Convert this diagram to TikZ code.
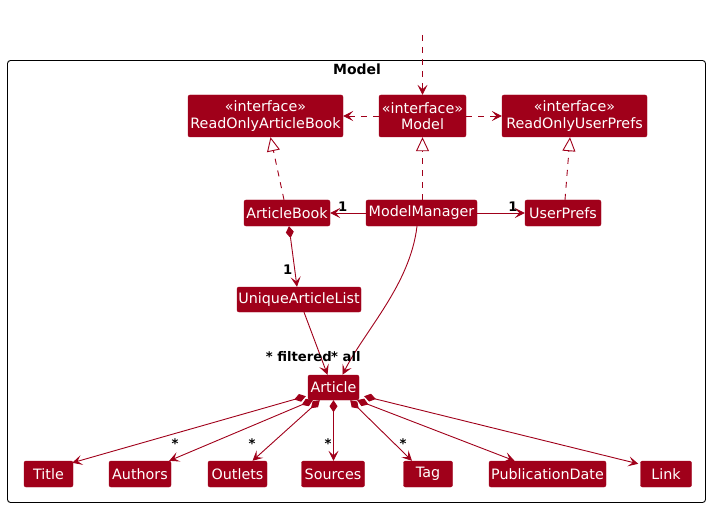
\documentclass[tikz,border=0pt]{standalone}
\usepackage{fontspec}
\setmainfont{DejaVu Sans}
\usetikzlibrary{arrows.meta,calc}
\definecolor{umlred}{RGB}{160,0,26}
\tikzset{
  cls/.style={fill=umlred,draw=umlred,rounded corners=2pt,text=white,inner sep=0pt,
    font=\fontsize{14.3}{16.5}\selectfont,align=center},
  ln/.style={draw=umlred,line width=0.9pt},
  dep/.style={ln,dash pattern=on 6pt off 6pt,-{Stealth[length=10pt,width=10pt,inset=4.5pt]}},
  real/.style={ln,dash pattern=on 6pt off 6pt,-{Triangle[open,fill=white,length=14pt,width=13pt]}},
  assoc/.style={ln,-{Stealth[length=10pt,width=10pt,inset=4.5pt]}},
  comp/.style={ln,{Diamond[length=12pt,width=8pt]}-{Stealth[length=10pt,width=10pt,inset=4.5pt]}},
  mult/.style={font=\bfseries\fontsize{13.2}{15}\selectfont,text=black,inner sep=0pt},
}
\begin{document}
\begin{tikzpicture}[x=1pt,y=-1pt]
\useasboundingbox (0,0) rectangle (710,508);
% package frame
\draw[black,line width=0.9pt,rounded corners=3pt] (7.5,60.5) rectangle (705.5,502.5);
\node[font=\bfseries\fontsize{14}{16}\selectfont,inner sep=0pt] (pkg) at (357,69) {Model};

% nodes
\node[cls,minimum width=155pt,minimum height=42pt] (roab) at (265.5,116) {«interface»\\ReadOnlyArticleBook};
\node[cls,minimum width=87pt,minimum height=42pt] (model) at (422.5,116) {«interface»\\Model};
\node[cls,minimum width=145pt,minimum height=42pt] (roup) at (574.5,116) {«interface»\\ReadOnlyUserPrefs};
\node[cls,minimum width=86pt,minimum height=26pt] (ab) at (287,213) {ArticleBook};
\node[cls,minimum width=111pt,minimum height=26pt] (mm) at (421.5,213) {ModelManager};
\node[cls,minimum width=76pt,minimum height=26pt] (up) at (563,213) {UserPrefs};
\node[cls,minimum width=124pt,minimum height=25pt] (ual) at (299,299.5) {UniqueArticleList};
\node[cls,minimum width=51pt,minimum height=25pt] (art) at (333.5,387.5) {Article};
\node[cls,minimum width=49pt,minimum height=26pt] (title) at (48.5,474) {Title};
\node[cls,minimum width=62pt,minimum height=26pt] (authors) at (140,474) {Authors};
\node[cls,minimum width=59pt,minimum height=26pt] (outlets) at (237.5,474) {Outlets};
\node[cls,minimum width=63pt,minimum height=26pt] (sources) at (333,474) {Sources};
\node[cls,minimum width=49pt,minimum height=26pt] (tag) at (428,474) {Tag};
\node[cls,minimum width=117pt,minimum height=26pt] (pub) at (547.5,474) {PublicationDate};
\node[cls,minimum width=51pt,minimum height=26pt] (link) at (666,474) {Link};

% incoming dependency from above
\coordinate (topin) at (422.5,35);
\draw[dep] (topin) -- (model.north);

% dependencies
\draw[dep] (model.west) -- (roab.east);
\draw[dep] (model.east) -- (roup.east -| roup.west);

% realizations
\draw[real] ([xshift=-3pt]ab.north) -- ([xshift=5pt]roab.south);
\draw[real] (mm.north -| model.south) -- (model.south);
\draw[real] ([xshift=2pt]up.north) -- ([xshift=-4.5pt]roup.south);

% associations
\draw[assoc] (mm.west) -- (ab.east) node[mult,pos=0.65,above=1pt] (m1) {1};
\draw[assoc] (mm.east) -- (up.west) node[mult,pos=0.75,above=1pt] (m2) {1};
\draw[comp] ([xshift=2pt]ab.south) -- ([xshift=-2pt]ual.north) node[mult,pos=0.72,left=2pt] (m3) {1};
\draw[assoc] ([xshift=5pt]ual.south) -- ([xshift=-6pt]art.north);
\draw[assoc] ([xshift=-4.5pt]mm.south) .. controls (410,285) and (365,330) .. ([xshift=9pt]art.north);
\node[mult,anchor=east] (mf) at (332,357) {* filtered};
\node[mult,anchor=west] (ma) at (331,357) {* all};

% compositions from Article
\draw[comp] ([xshift=-2pt,yshift=4pt]art.south west) -- ([xshift=-1pt,yshift=-2pt]title.north east);
\draw[comp] ([xshift=5pt]art.south west) -- ([xshift=-2pt]authors.north east);
\draw[comp] ([xshift=12pt]art.south west) -- ([xshift=15pt]outlets.north);
\draw[comp] (art.south) -- (art.south |- sources.north);
\draw[comp] ([xshift=-9pt]art.south east) -- ([xshift=-16pt]tag.north);
\draw[comp] ([xshift=-2pt]art.south east) -- ([xshift=-33pt]pub.north);
\draw[comp] ([xshift=5pt,yshift=4pt]art.south east) -- ([xshift=-2pt,yshift=-3pt]link.north west);

\node[mult] (s1) at (175,444) {*};
\node[mult] (s2) at (252,444) {*};
\node[mult] (s3) at (328,444) {*};
\node[mult] (s4) at (403,444) {*};
\end{tikzpicture}
\end{document}
